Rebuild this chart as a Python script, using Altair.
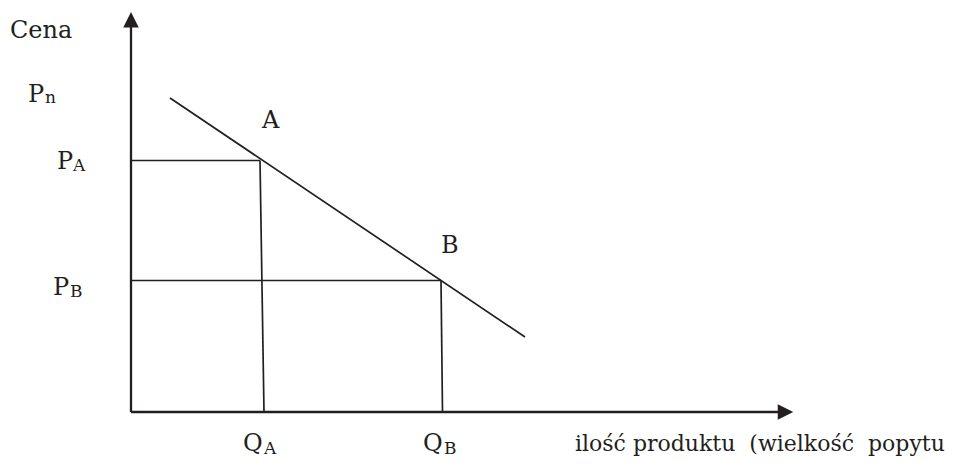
import altair as alt
import pandas as pd

INK = "#231f20"
FONT = "DejaVu Serif"

# Economic quantities (1 unit = 10 px from the origin)
P_A = 25.15
P_B = 13.15
Q_A_top, Q_A_bot = 12.9, 13.3
Q_B_top, Q_B_bot = 31.0, 31.15
demand_q = [3.9, 39.4]
demand_p = [31.4, 7.5]

# Axes
axis_x = [0.0, 0.0]
axis_y = [0.0, 0.0]
axis_x2 = [0.0, 64.9]
axis_y2 = [38.6, 0.0]

# Guide lines (to A and B)
guide_x = [0.0, Q_A_top, 0.0, Q_B_top]
guide_y = [P_A, P_A, P_B, P_B]
guide_x2 = [Q_A_top, Q_A_bot, Q_B_top, Q_B_bot]
guide_y2 = [P_A, 0.0, P_B, 0.0]

# Arrow heads
arrow_up_x, arrow_up_y = [0.0], [39.22]
arrow_right_x, arrow_right_y = [65.45], [0.0]

# Labels
big_text = ["Cena", "P", "P", "P", "A", "B", "Q", "Q"]
big_x = [-12.1, -10.3, -7.4, -7.8, 13.1, 31.0, 11.2, 29.2]
big_y = [37.45, 31.0, 24.35, 11.7, 28.45, 15.9, -3.85, -3.85]
sub_text = ["n", "A", "B", "A", "B"]
sub_x = [-8.6, -5.8, -6.1, 13.3, 31.3]
sub_y = [30.9, 24.1, 11.5, -4.2, -4.2]
long_text = ["ilość produktu\u00a0 (wielkość\u00a0 popytu"]
long_x = [44.4]
long_y = [-3.85]

X = alt.Scale(domain=[-12.3, 81.7], nice=False, zero=False)
Y = alt.Scale(domain=[-4.6, 40.4], nice=False, zero=False)


def rules(xs, ys, x2s, y2s, width):
    df = pd.DataFrame({"x": xs, "y": ys, "x2": x2s, "y2": y2s})
    return alt.Chart(df).mark_rule(color=INK, strokeWidth=width).encode(
        x=alt.X("x:Q", scale=X, axis=None),
        y=alt.Y("y:Q", scale=Y, axis=None),
        x2="x2:Q",
        y2="y2:Q",
    )


def texts(labels, xs, ys, size):
    df = pd.DataFrame({"t": labels, "x": xs, "y": ys})
    return alt.Chart(df).mark_text(
        font=FONT, fontSize=size, color=INK, align="left", baseline="alphabetic"
    ).encode(
        x=alt.X("x:Q", scale=X, axis=None),
        y=alt.Y("y:Q", scale=Y, axis=None),
        text="t:N",
    )


def arrow(xs, ys, shape):
    df = pd.DataFrame({"x": xs, "y": ys})
    return alt.Chart(df).mark_point(
        shape=shape, size=240, filled=True, color=INK, opacity=1, strokeWidth=0
    ).encode(
        x=alt.X("x:Q", scale=X, axis=None),
        y=alt.Y("y:Q", scale=Y, axis=None),
    )


demand = rules([demand_q[0]], [demand_p[0]], [demand_q[1]], [demand_p[1]], 1.7)

chart = alt.layer(
    rules(axis_x, axis_y, axis_x2, axis_y2, 2.3),
    rules(guide_x, guide_y, guide_x2, guide_y2, 1.7),
    demand,
    arrow(arrow_up_x, arrow_up_y, "M0,-1L1,1L-1,1Z"),
    arrow(arrow_right_x, arrow_right_y, "M1,0L-1,-1L-1,1Z"),
    texts(big_text, big_x, big_y, 24),
    texts(sub_text, sub_x, sub_y, 17),
    texts(long_text, long_x, long_y, 22),
).properties(
    width=940, height=450, padding=0, autosize=alt.AutoSizeParams(type="none")
).configure_view(stroke=None)

chart.save("out.html", embed_options={"renderer": "svg", "actions": False})
